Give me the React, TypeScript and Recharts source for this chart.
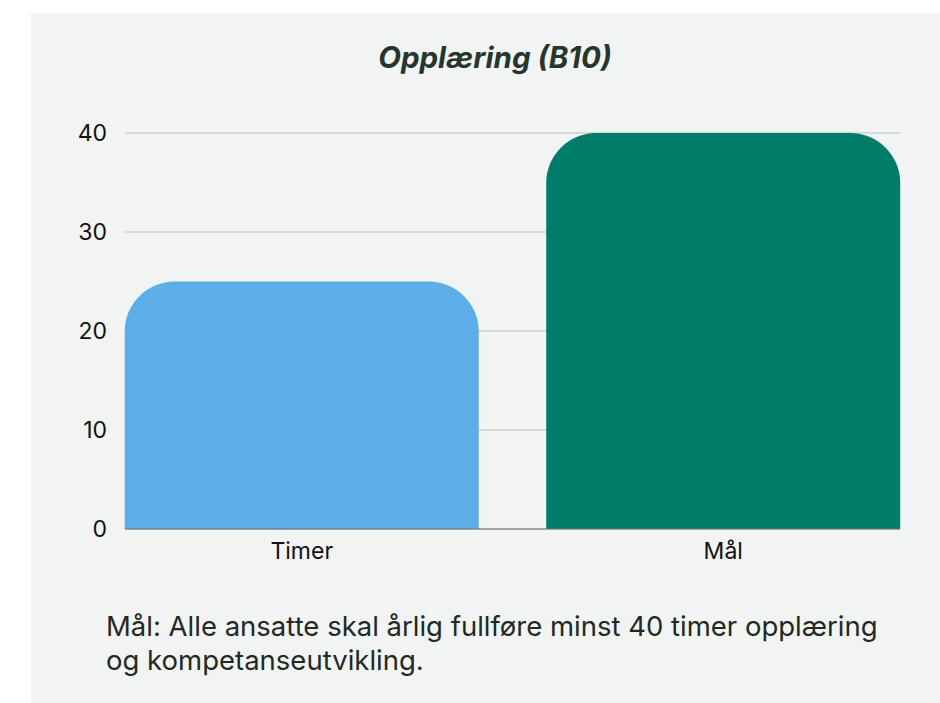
import { BarChart, Bar, XAxis, YAxis, CartesianGrid, Cell } from 'recharts';

const categories = ['Timer', 'Mål'];
const hours = [25, 40];
const barColors = ['#5DADE8', '#007D68'];
const yTicks = [0, 10, 20, 30, 40];

const chartData = categories.map((name, i) => ({ name, value: hours[i] }));

const font = 'Inter, "Noto Sans", sans-serif';

export default function App() {
  return (
    <div style={{ position: 'fixed', left: 0, top: 0, width: 940, height: 703, background: '#fff', fontFamily: font }}>
      <div style={{ position: 'absolute', left: 31, top: 13, width: 909, height: 690, background: '#F2F4F3' }} />
      <div
        style={{
          position: 'absolute',
          left: 295,
          top: 37,
          width: 400,
          textAlign: 'center',
          fontSize: 29.5,
          fontWeight: 700,
          fontStyle: 'italic',
          color: '#26362C',
          lineHeight: '40px',
        }}
      >
        Opplæring (B10)
      </div>
      <div style={{ position: 'absolute', left: 0, top: 0 }}>
        <BarChart
          width={940}
          height={600}
          data={chartData}
          margin={{ top: 133, right: 40, left: 65, bottom: 41 }}
          barCategoryGap="8%"
        >
          <CartesianGrid horizontal vertical={false} stroke="#BDBDBD" />
          <XAxis
            dataKey="name"
            padding={{ left: -34, right: -34 }}
            tickLine={false}
            axisLine={{ stroke: '#6E6E6E' }}
            tickMargin={8}
            tick={{ fill: '#111', fontSize: 23, fontFamily: font }}
          />
          <YAxis
            width={60}
            domain={[0, 40]}
            ticks={yTicks}
            axisLine={false}
            tickLine={false}
            tickMargin={12}
            tick={{ fill: '#111', fontSize: 23, fontFamily: font }}
          />
          <Bar dataKey="value" radius={[50, 50, 0, 0]} isAnimationActive={false}>
            {chartData.map((d, i) => (
              <Cell key={d.name} fill={barColors[i]} />
            ))}
          </Bar>
        </BarChart>
      </div>
      <div
        style={{
          position: 'absolute',
          left: 106,
          top: 609,
          width: 830,
          fontSize: 27.5,
          lineHeight: '34px',
          color: '#1F2A24',
        }}
      >
        Mål: Alle ansatte skal årlig fullføre minst 40 timer opplæring
        <br />
        og kompetanseutvikling.
      </div>
    </div>
  );
}
